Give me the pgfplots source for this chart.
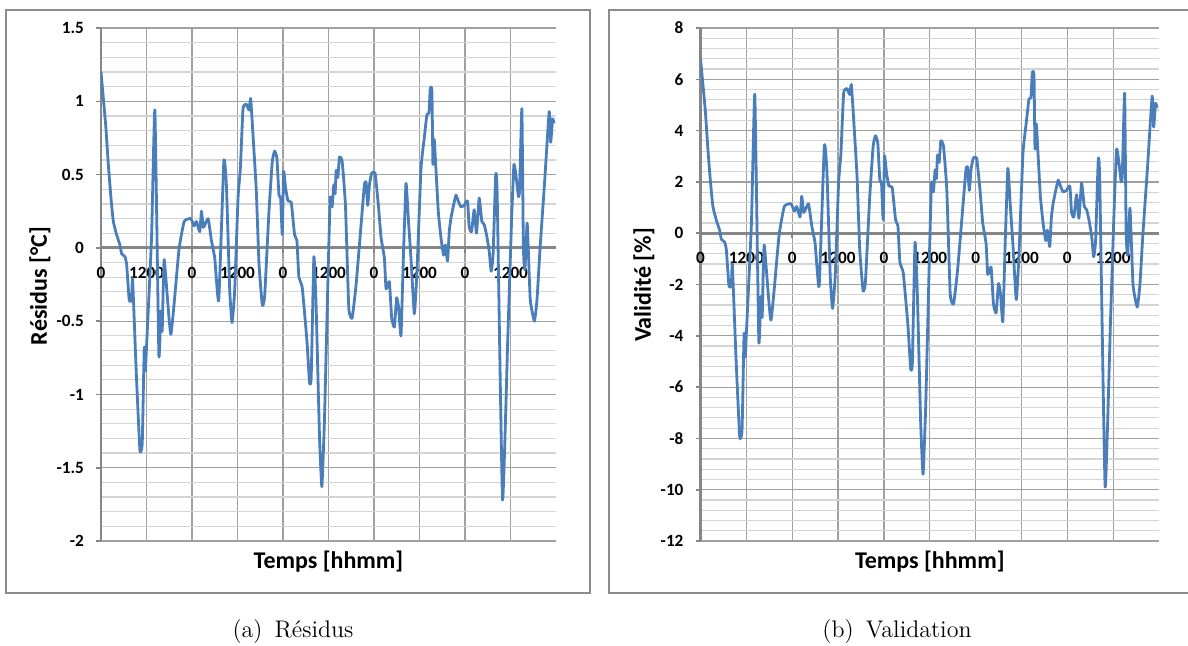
\documentclass[border=0pt]{standalone}
\usepackage{fontspec}
\newfontfamily\carl{Carlito}
\usepackage{pgfplots}
\usepackage{pgfplotstable}
\pgfplotsset{compat=1.18}
\definecolor{exblue}{HTML}{4A7EBB}
\definecolor{gridmaj}{HTML}{A0A0A0}
\definecolor{gridmin}{HTML}{D4D4D4}
\definecolor{axgray}{HTML}{868686}
\definecolor{framegray}{HTML}{8C8C8C}

\pgfplotstableread{
h res val
0 1.20 6.80
1.23 0.84 4.83
1.93 0.57 3.28
2.63 0.34 1.96
3.25 0.18 1.04
4.12 0.09 0.52
5.0 0.02 0.12
5.44 -0.04 -0.23
6.32 -0.06 -0.35
6.75 -0.11 -0.63
7.19 -0.27 -1.55
7.46 -0.36 -2.07
8.07 -0.36 -2.07
8.33 -0.21 -1.21
9.3 -0.85 -4.89
10.26 -1.38 -7.94
10.88 -1.33 -7.65
11.4 -0.68 -3.91
11.7 -0.84 -4.83
12.0 -0.68 -3.91
13.33 0.07 0.40
14.21 0.94 5.41
15.26 -0.73 -4.20
15.79 -0.43 -2.47
16.14 -0.57 -3.28
16.67 -0.08 -0.46
18.42 -0.59 -3.39
20.53 -0.02 -0.12
21.93 0.18 1.04
23.68 0.20 1.15
24.56 0.15 0.86
25.18 0.18 1.04
26.05 0.11 0.63
26.49 0.25 1.44
27.02 0.14 0.81
28.25 0.20 1.15
29.12 0.05 0.29
30.0 -0.07 -0.40
31.05 -0.36 -2.07
32.4 0.59 3.39
33.07 0.43 2.47
33.95 -0.29 -1.67
34.56 -0.51 -2.93
35.26 -0.29 -1.67
36.14 0.34 1.96
36.75 0.54 3.11
37.46 0.95 5.46
38.33 0.98 5.64
39.04 0.94 5.41
39.47 1.02 5.80
40.09 0.77 4.43
40.96 0.39 2.24
41.67 -0.11 -0.63
42.54 -0.39 -2.24
43.16 -0.33 -1.90
44.30 0.25 1.44
45.18 0.59 3.39
45.79 0.66 3.80
46.40 0.61 3.51
46.93 0.36 2.07
47.37 0.34 1.96
47.81 0.09 0.52
48.16 0.52 3.00
48.68 0.41 2.36
49.30 0.32 1.84
50.18 0.31 1.78
51.05 0.09 0.52
51.67 0.05 0.29
52.19 -0.20 -1.15
53.07 -0.27 -1.55
54.30 -0.63 -3.62
55.0 -0.92 -5.29
55.44 -0.88 -5.06
56.14 -0.06 -0.35
56.75 -0.41 -2.36
57.63 -1.29 -7.42
58.25 -1.63 -9.40
58.95 -1.16 -6.67
59.82 -0.25 -1.44
60.44 0.34 1.96
60.96 0.28 1.61
61.40 0.43 2.47
61.75 0.37 2.13
62.02 0.53 3.05
62.46 0.48 2.76
62.89 0.62 3.60
63.60 0.59 3.39
64.47 0.29 1.67
65.35 -0.41 -2.36
66.23 -0.48 -2.76
67.28 -0.25 -1.44
68.60 0.16 0.92
69.47 0.43 2.47
69.91 0.45 2.59
70.35 0.29 1.67
70.79 0.43 2.47
71.40 0.51 2.93
72.28 0.51 2.93
73.16 0.29 1.67
73.86 0.07 0.40
74.74 -0.07 -0.40
75.18 -0.28 -1.61
76.05 -0.23 -1.32
76.67 -0.48 -2.76
77.37 -0.54 -3.11
77.98 -0.34 -1.96
78.51 -0.41 -2.36
79.12 -0.60 -3.45
79.74 -0.07 -0.40
80.44 0.44 2.53
81.05 0.20 1.15
81.75 -0.07 -0.40
82.63 -0.45 -2.59
83.33 -0.16 -0.92
84.39 0.54 3.11
85.26 0.75 4.31
85.96 0.91 5.23
86.49 0.92 5.29
86.84 1.09 6.27
87.28 1.07 6.15
87.54 0.57 3.28
87.89 0.74 4.26
88.33 0.54 3.11
88.95 0.25 1.44
89.65 0.07 0.40
90.35 -0.05 -0.29
90.79 0.02 0.12
91.40 -0.09 -0.52
91.84 0.11 0.63
92.28 0.20 1.15
92.89 0.28 1.61
93.60 0.36 2.07
94.21 0.32 1.84
94.91 0.28 1.61
95.79 0.29 1.67
96.67 0.32 1.84
97.11 0.14 0.81
97.72 0.11 0.63
98.42 0.26 1.50
99.04 0.10 0.58
99.74 0.34 1.96
100.44 0.18 1.04
101.05 0.16 0.92
101.67 0.09 0.52
102.37 -0.02 -0.12
102.9 -0.16 -0.92
103.4 -0.05 -0.29
104.1 0.50 2.88
104.5 0.35 2.01
105.9 -1.72 -9.89
107.3 -0.60 -3.45
108.3 0.20 1.15
108.9 0.57 3.28
109.4 0.50 2.88
110.1 0.35 2.01
110.4 0.40 2.30
111.0 0.95 5.46
111.4 0.00 0.00
111.8 -0.15 -0.86
112.4 0.17 0.98
113.2 -0.35 -2.01
114.3 -0.50 -2.88
115.0 -0.35 -2.01
115.8 0.00 0.00
117.0 0.45 2.59
118.2 0.93 5.35
118.6 0.72 4.14
119.1 0.88 5.06
119.5 0.85 4.89
}\data

\pgfplotsset{
  excel/.style={
    scale only axis,
    axis x line=middle, axis y line=left,
    axis line style={-, draw=axgray, line width=1.3pt},
    x axis line style={line width=1.6pt},
    hide obscured x ticks=false, hide obscured y ticks=false,
    xmin=0, xmax=120,
    xtick={0,12,...,108},
    xticklabels={0,1200,0,1200,0,1200,0,1200,0,1200},
    grid=both,
    major grid style={draw=gridmaj, line width=0.6pt},
    minor grid style={draw=gridmin, line width=0.6pt},
    minor y tick num=4,
    tick align=outside,
    major tick length=2.5pt,
    minor tick length=0pt,
    tick style={draw=axgray, line width=0.8pt},
    ticklabel style={font=\carl\bfseries\fontsize{8.6}{10}\selectfont},
    xticklabel style={yshift=-3.5pt},
    yticklabel style={xshift=-2.5pt},
  },
  exline/.style={draw=exblue, line width=1.4pt, line join=round, mark=none, smooth, tension=0.25},
}

\begin{document}
\begin{tikzpicture}
\useasboundingbox (0pt,0pt) rectangle (594pt,-322.5pt);
\draw[framegray, line width=1pt] (3pt,-5pt) rectangle (295pt,-296.5pt);
\draw[framegray, line width=1pt] (304.5pt,-5pt) rectangle (598pt,-296.5pt);

\begin{axis}[excel,
  at={(50.5pt,-270.5pt)}, anchor=south west,
  width=227.5pt, height=256.5pt,
  ymin=-2, ymax=1.5,
  ytick={-2,-1.5,-1,-0.5,0,0.5,1,1.5},
  yticklabels={-2,-1.5,-1,-0.5,0,0.5,1,1.5},
]
\addplot[exline] table[x=h, y=res] {\data};
\end{axis}

\begin{axis}[excel,
  at={(350.25pt,-270.5pt)}, anchor=south west,
  width=229.25pt, height=256.5pt,
  ymin=-12, ymax=8,
  ytick={-12,-10,...,8},
  yticklabels={-12,-10,-8,-6,-4,-2,0,2,4,6,8},
]
\addplot[exline] table[x=h, y=val] {\data};
\end{axis}

\node[rotate=90, font=\carl\bfseries\fontsize{12}{14}\selectfont] at (20pt,-143pt) {Résidus [°C]};
\node[rotate=90, font=\carl\bfseries\fontsize{12}{14}\selectfont] at (322pt,-142.5pt) {Validité [\%]};
\node[font=\carl\bfseries\fontsize{12}{14}\selectfont] at (164.25pt,-281pt) {Temps [hhmm]};
\node[font=\carl\bfseries\fontsize{12}{14}\selectfont] at (464.9pt,-281pt) {Temps [hhmm]};
\node[font=\fontsize{12}{14}\selectfont] at (146.5pt,-315.5pt) {(a)\hspace{0.5em}Résidus};
\node[font=\fontsize{12}{14}\selectfont] at (448.5pt,-315.5pt) {(b)\hspace{0.5em}Validation};
\end{tikzpicture}
\end{document}
